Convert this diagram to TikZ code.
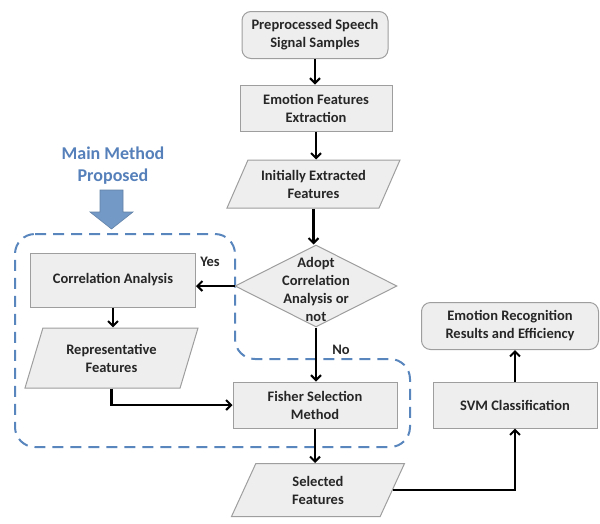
\documentclass[tikz,border=0pt]{standalone}
\usepackage{fontspec}
\setmainfont{Carlito}
\usetikzlibrary{shapes.geometric,arrows.meta}
\definecolor{boxfill}{HTML}{EEEEEE}
\definecolor{boxline}{HTML}{9E9E9E}
\definecolor{txt}{HTML}{262626}
\definecolor{mblue}{HTML}{5A86BE}
\definecolor{ablue}{HTML}{7399C6}
\definecolor{tblue}{HTML}{5580BA}
\tikzset{
  base/.style={draw=boxline, fill=boxfill, line width=1pt, text=txt, align=center, inner sep=2pt,
    font=\bfseries\fontsize{14.5}{18}\selectfont},
  procbox/.style={base, rectangle, minimum width=#1, minimum height=46pt},
  roundbox/.style={base, rectangle, rounded corners=9pt, minimum width=#1, minimum height=47pt},
  databox/.style={base, trapezium, trapezium left angle=#1, trapezium right angle=180-#1,
    trapezium stretches body, minimum width=173pt},
  decbox/.style={base, diamond, minimum width=162pt, minimum height=82pt, inner sep=0pt},
  lbl/.style={text=txt, font=\bfseries\fontsize{14.5}{18}\selectfont, align=center},
  conn/.style={line width=2.2pt, draw=black, -{Straight Barb[length=5pt,width=10pt,line width=2pt]}},
  regionline/.style={draw=mblue, line width=2pt, dash pattern=on 11pt off 7pt, rounded corners=20pt},
}
\begin{document}
\begin{tikzpicture}[x=1pt,y=-1pt]
\useasboundingbox (0,0) rectangle (600,523);
% region
\path[regionline] (15,234) -- (235,234) -- (235,359) -- (410,359) -- (410,447) -- (15,447) -- cycle;
% nodes
\node[roundbox=146pt] (pre) at (315,35) {Preprocessed Speech\\Signal Samples};
\node[procbox=152pt] (efe) at (316,108) {Emotion Features\\Extraction};
\node[databox=57, minimum height=48pt] (ief) at (313.5,184) {Initially Extracted\\Features};
\node[decbox] (dia) at (316,286) {};
\node[lbl] (diat) at (316,289) {Adopt\\Correlation\\Analysis or\\not};
\node[procbox=164pt] (fis) at (315,405) {Fisher Selection\\Method};
\node[databox=53, minimum height=53pt] (sel) at (318,490) {Selected\\Features};
\node[procbox=164pt] (svm) at (515,405) {SVM Classification};
\node[roundbox=177pt] (emo) at (510,326) {Emotion Recognition\\Results and Efficiency};
\node[procbox=165pt, minimum height=54pt] (ca) at (113,280) {Correlation Analysis};
\node[databox=61, minimum height=60pt] (rep) at (111.5,358) {Representative\\Features};
% labels
\node[lbl] (yes) at (210,262) {Yes};
\node[lbl] (no) at (341,350) {No};
\node[text=tblue, font=\bfseries\fontsize{18}{22}\selectfont, align=center] (mmp) at (113,166) {Main Method\\Proposed};
% block arrow
\path[fill=ablue, draw=ablue!85!black, line width=0.6pt] (100,190) -- (123,190) -- (123,212) -- (133,212) -- (111.5,229) -- (90,212) -- (100,212) -- cycle;
% connectors
\draw[conn] (pre.south) -- (pre.south |- efe.north);
\draw[conn] (efe.south) -- (efe.south |- ief.north);
\draw[conn] (ief.south) -- (ief.south |- dia.north);
\draw[conn] (dia.south) -- (dia.south |- fis.north);
\draw[conn] (fis.south) -- (fis.south |- sel.north);
\draw[conn] (dia.west) -- (dia.west -| ca.east);
\draw[conn] (ca.south) -- (ca.south |- rep.north);
\draw[conn] (rep.south) |- (fis.west);
\draw[conn] (sel.east) -| (svm.south);
\draw[conn] (svm.north) -- (svm.north |- emo.south);
\end{tikzpicture}
\end{document}
